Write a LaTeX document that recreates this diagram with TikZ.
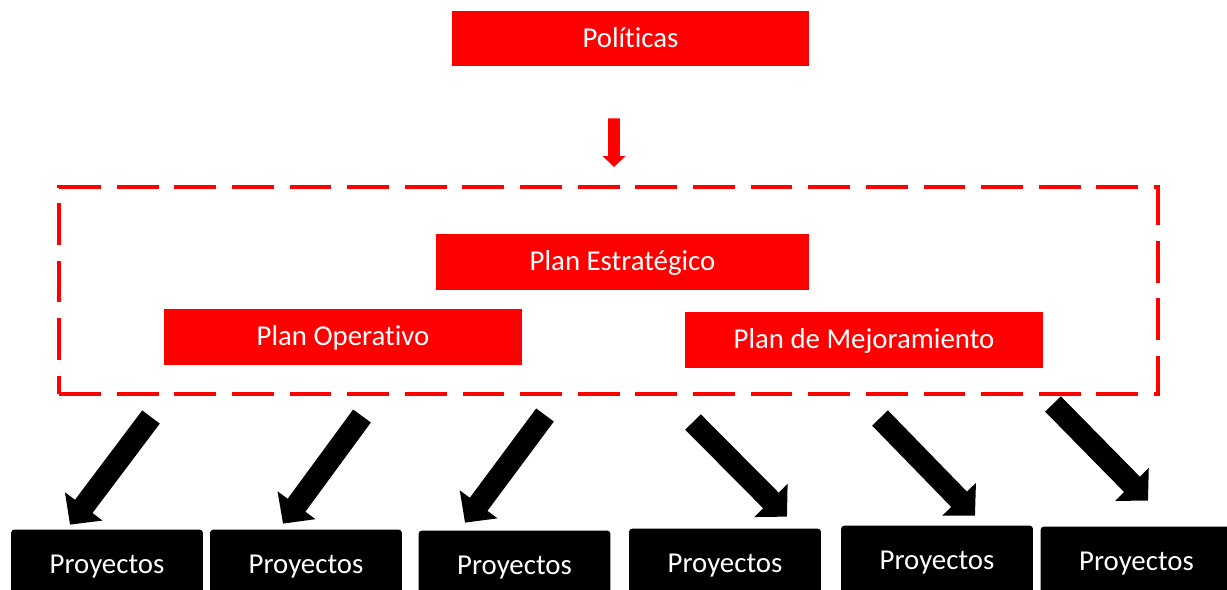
\documentclass[tikz,border=0pt]{standalone}
\usepackage{fontspec}
\setmainfont{Carlito}[Ligatures=NoCommon]
\usetikzlibrary{arrows.meta}
\definecolor{planred}{RGB}{255,0,0}
\tikzset{
    redbox/.style={fill=planred, text=white, minimum width=7.16cm, minimum height=1.12cm,
        inner sep=0pt, text height=13pt, text depth=3pt, font=\fontsize{16.4}{19}\selectfont},
    projbox/.style={fill=black, text=white, rounded corners=2pt, minimum width=3.84cm,
        minimum height=1.5cm, inner sep=0pt, font=\fontsize{16.4}{19}\selectfont},
    bigarrow/.style={line width=12.5pt, -{Triangle[width=26pt,length=13pt]}},
    redarrow/.style={planred, line width=6.8pt, -{Triangle[width=12.5pt,length=6.2pt]}}
}
\begin{document}
\begin{tikzpicture}[x=0.02cm, y=-0.02cm]
        \useasboundingbox (0,0) rectangle (1227,589);
        %% Top box and frame
        \node[redbox, minimum width=7.14cm, minimum height=1.1cm] (pol) at (630.5,38.5) {Políticas};
        \node[draw=planred, line width=2.27pt, dash pattern=on 23.8pt off 9pt,
            minimum width=21.98cm, minimum height=4.14cm] (plan) at (608.5,290.5) {};
        \draw[redarrow] ([shift={(-16.5,52)}]pol.south) -- ([shift={(5.5,-18)}]plan.north);
        %% Plans
        \node[redbox, minimum width=7.46cm] (estr) at (622.5,262) {Plan Estratégico};
        \node[redbox] (oper) at (343,337) {Plan Operativo};
        \node[redbox] (mejo) at (864,340) {Plan de Mejoramiento};
        %% Projects
        \node[projbox] (p1) at (107,567) {Proyectos};
        \node[projbox] (p2) at (306,567) {Proyectos};
        \node[projbox] (p3) at (514.5,568) {Proyectos};
        \node[projbox] (p4) at (725,566) {Proyectos};
        \node[projbox] (p5) at (937,563) {Proyectos};
        \node[projbox] (p6) at (1136.5,564) {Proyectos};
        %% Arrows
        \coordinate (t1) at (151,417);
        \coordinate (t2) at (362,416);
        \coordinate (t3) at (545,415);
        \coordinate (t4) at (693,422);
        \coordinate (t5) at (880,418);
        \coordinate (t6) at (1053,404);
        \draw[bigarrow] (t1) -- ([shift={(-37,-4.5)}]p1.north);
        \draw[bigarrow] (t2) -- ([shift={(-23,-5.5)}]p2.north);
        \draw[bigarrow] (t3) -- ([shift={(-49.5,-7.5)}]p3.north);
        \draw[bigarrow] (t4) -- ([shift={(62,-11.5)}]p4.north);
        \draw[bigarrow] (t5) -- ([shift={(38,-9.5)}]p5.north);
        \draw[bigarrow] (t6) -- ([shift={(11.5,-25.5)}]p6.north);
    \end{tikzpicture}
\end{document}
